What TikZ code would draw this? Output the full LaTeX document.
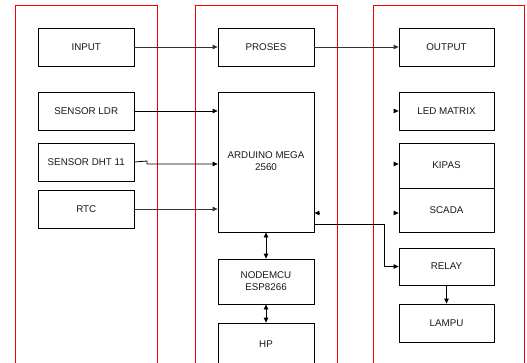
\documentclass[tikz,border=0pt]{standalone}
\usepackage{fontspec}
\setmainfont{Liberation Sans}
\usetikzlibrary{arrows.meta}
\definecolor{colred}{RGB}{240,0,0}
\begin{document}
\begin{tikzpicture}[x=1pt,y=-1pt,
  box/.style={draw=black,line width=0.8pt,rectangle,inner sep=0pt,align=center,font=\fontsize{9.8}{12}\selectfont,text=black!90},
  colline/.style={draw=colred,line width=1pt},
  conn/.style={draw=black!80,line width=0.8pt,-{Triangle[length=5pt,width=4.5pt]}},
  dconn/.style={draw=black,line width=0.8pt,{Triangle[length=5pt,width=4.5pt]}-{Triangle[length=5pt,width=4.5pt]}}]
\useasboundingbox (0,0) rectangle (527,362);
\fill[white] (0,0) rectangle (527,362);
% columns
\draw[colline] (15.5,365) -- (15.5,5.5) -- (157.5,5.5) -- (157.5,365);
\draw[colline] (195.5,365) -- (195.5,5.5) -- (337.5,5.5) -- (337.5,365);
\draw[colline] (373.5,365) -- (373.5,5.5) -- (524,5.5) -- (524,365);
% left nodes
\node[box,minimum width=95.5pt,minimum height=38pt] (in) at (86.25,47) {INPUT};
\node[box,minimum width=95.5pt,minimum height=38pt] (ldr) at (86.25,111) {SENSOR LDR};
\node[box,minimum width=95.5pt,minimum height=38pt] (dht) at (86.25,162) {SENSOR DHT 11};
\node[box,minimum width=95.5pt,minimum height=38pt] (rtc) at (86.25,209) {RTC};
% middle nodes
\node[box,minimum width=96pt,minimum height=38pt] (pro) at (266,47) {PROSES};
\node[box,minimum width=96pt,minimum height=140pt] (ard) at (266,162) {\raisebox{-2pt}{\begin{tabular}{@{}c@{}}ARDUINO MEGA\\2560\end{tabular}}};
\node[box,minimum width=96pt,minimum height=45pt] (mcu) at (266,281.5) {NODEMCU\\ESP8266};
\node[box,minimum width=96pt,minimum height=46pt] (hp) at (266,346) {\raisebox{4pt}{HP}};
% right nodes
\node[box,minimum width=95pt,minimum height=38pt] (out) at (446.5,47) {OUTPUT};
\node[box,minimum width=95pt,minimum height=38pt] (led) at (446.5,111) {LED MATRIX};
\node[box,minimum width=95pt,minimum height=45pt] (kip) at (446.5,165.5) {KIPAS};
\node[box,minimum width=95pt,minimum height=44pt] (sca) at (446.5,210) {\raisebox{-3pt}{SCADA}};
\node[box,minimum width=95pt,minimum height=37pt] (rel) at (446.5,266.5) {RELAY};
\node[box,minimum width=95pt,minimum height=38pt] (lam) at (446.5,323) {LAMPU};
% connectors
\draw[conn] (in.east) -- (pro.west);
\draw[conn] (pro.east) -- (out.west);
\draw[conn,draw=black] (ldr.east) -- (ard.west |- ldr.east);
\draw[conn,draw=black] (dht.east) -- (147,161) -- (147,164) -- (ard.west |- 0,164);
\draw[conn] (rtc.east) -- (ard.west |- rtc.east);
\draw[conn,draw=black] (ard.east |- 0,224) -- (384,224) -- (384,266.5) -- (rel.west);
\draw[conn,draw=black] (rel.south) -- (lam.north);
\draw[dconn] (ard.south) -- (mcu.north);
\draw[dconn] (mcu.south) -- (hp.north);
% lone arrowheads
\coordinate (a1) at (393.5,111);
\coordinate (a2) at (393.5,164);
\coordinate (a3) at (393.5,213);
\coordinate (a4) at (319.5,213);
\draw[conn,draw=black] (a1) -- (led.west |- a1);
\draw[conn,draw=black] (a2) -- (kip.west |- a2);
\draw[conn,draw=black] (a3) -- (sca.west |- a3);
\draw[conn,draw=black] (a4) -- (ard.east |- a4);
\end{tikzpicture}
\end{document}
